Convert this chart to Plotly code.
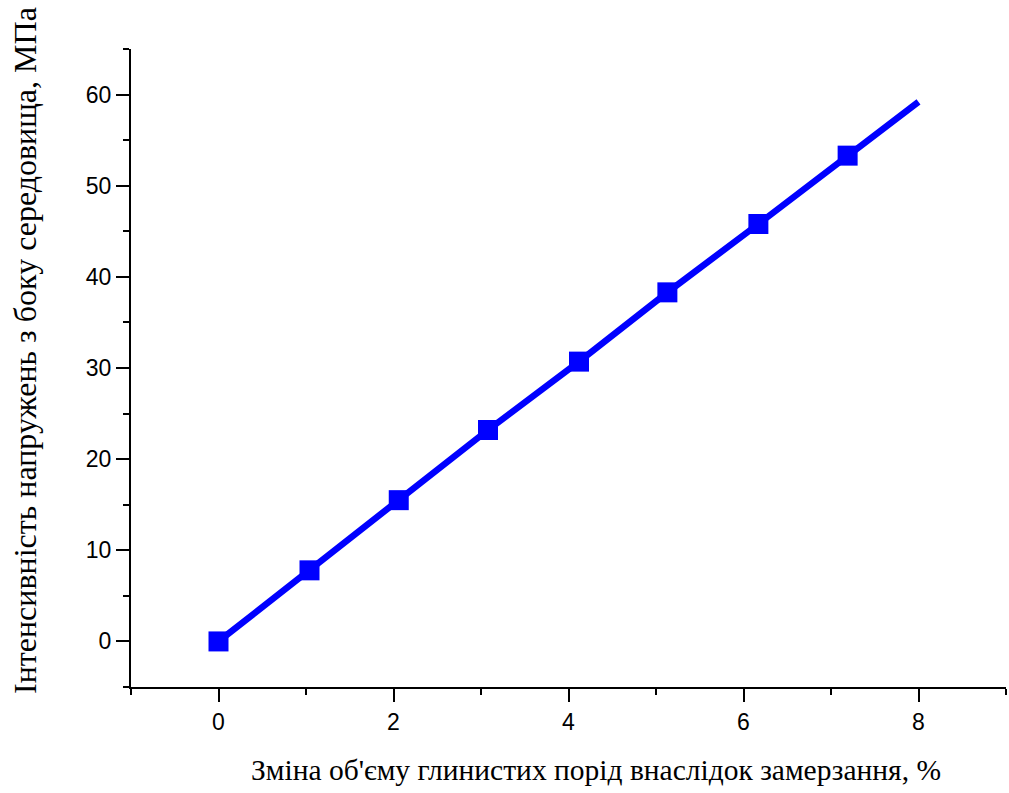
import plotly.graph_objects as go

# Data
x_pts = [0, 1.04, 2.06, 3.08, 4.12, 5.13, 6.17, 7.19]
y_pts = [0, 7.8, 15.5, 23.2, 30.7, 38.3, 45.8, 53.3]
x_line = [0, 1.04, 2.06, 3.08, 4.12, 5.13, 6.17, 7.19, 8.0]
y_line = [0, 7.8, 15.5, 23.2, 30.7, 38.3, 45.8, 53.3, 59.2]

x_title = "Зміна об'єму глинистих порід внаслідок замерзання, %"
y_title = "Інтенсивність напружень з боку середовища, МПа"

BLUE = "#0000ff"

fig = go.Figure()
fig.add_trace(go.Scatter(x=x_line, y=y_line, mode="lines",
                         line=dict(color=BLUE, width=6.5), showlegend=False,
                         hoverinfo="skip"))
fig.add_trace(go.Scatter(x=x_pts, y=y_pts, mode="markers",
                         marker=dict(symbol="square", size=20, color=BLUE),
                         showlegend=False))

tickfont = dict(family="Liberation Sans, Arial", size=23, color="black")
axis_common = dict(showgrid=False, zeroline=False, showline=True,
                   linecolor="black", linewidth=2, ticks="outside",
                   ticklen=13, tickwidth=2, tickcolor="black",
                   tickfont=tickfont)

fig.update_xaxes(range=[-1, 9], tickvals=[0, 2, 4, 6, 8],
                 minor=dict(ticks="outside", ticklen=6, tickwidth=2,
                            tickcolor="black", tickvals=[-1, 1, 3, 5, 7, 9]),
                 **axis_common)
fig.update_yaxes(range=[-5, 65], tickvals=[0, 10, 20, 30, 40, 50, 60],
                 minor=dict(ticks="outside", ticklen=6, tickwidth=2,
                            tickcolor="black",
                            tickvals=[-5, 5, 15, 25, 35, 45, 55, 65]),
                 **axis_common)

serif = "Liberation Serif, Times New Roman"
fig.update_layout(
    width=1009, height=793,
    margin=dict(l=131, r=3, t=49, b=106),
    paper_bgcolor="white", plot_bgcolor="white",
    annotations=[
        dict(text=x_title, xref="paper", yref="paper",
             x=(596 - 131) / 875, y=-(770 - 687) / 638,
             xanchor="center", yanchor="middle", showarrow=False,
             font=dict(family=serif, size=29.5, color="black")),
        dict(text=y_title, xref="paper", yref="paper",
             x=-(131 - 25) / 875, y=(687 - 351) / 638,
             xanchor="center", yanchor="middle", showarrow=False,
             textangle=-90, font=dict(family=serif, size=32, color="black")),
    ],
)

fig.write_html(
    "out.html",
    config={"displayModeBar": False},
    post_script="document.body.style.margin='0';document.body.style.overflow='hidden';",
)
